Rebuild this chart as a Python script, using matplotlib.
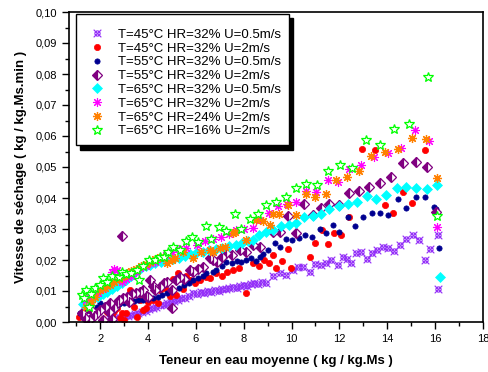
import matplotlib
matplotlib.use("Agg")
import matplotlib.pyplot as plt
from matplotlib.path import Path
from matplotlib.ticker import MultipleLocator, FuncFormatter
import numpy as np

plt.rcParams['font.family'] = ['Liberation Sans', 'DejaVu Sans']

labels = ["T=45°C HR=32% U=0.5m/s", "T=45°C HR=32% U=2m/s", "T=55°C HR=32% U=0.5m/s",
          "T=55°C HR=32% U=2m/s", "T=65°C HR=32% U=0.5m/s", "T=65°C HR=32% U=2m/s",
          "T=65°C HR=24% U=2m/s", "T=65°C HR=16% U=2m/s"]

# Series 1: T=45 HR=32 U=0.5
x1 = [2.4, 2.6, 2.8, 3.0, 3.15, 3.3, 3.45, 3.6, 3.75, 3.9, 4.05, 4.2, 4.35, 4.5, 4.65, 4.8, 4.95, 5.1,
      5.25, 5.4, 5.55, 5.7, 5.9, 6.05, 6.2, 6.35, 6.5, 6.65, 6.8, 6.95, 7.1, 7.25, 7.4, 7.55, 7.7, 7.85,
      8.0, 8.15, 8.3, 8.45, 8.6, 8.75, 8.92, 9.22, 9.5, 9.78, 10.06, 10.26, 10.47, 10.75, 10.96, 11.24,
      11.44, 11.65, 11.93, 12.14, 12.31, 12.5, 12.69, 12.92, 13.14, 13.36, 13.58, 13.81, 14.03, 14.28,
      14.53, 14.78, 15.06, 15.33, 15.56, 15.78, 16.14, 16.14]
y1 = [0.0010, 0.0013, 0.0015, 0.0019, 0.0020, 0.0023, 0.0026, 0.0030, 0.0032, 0.0036, 0.0041, 0.0044,
      0.0048, 0.0054, 0.0056, 0.0062, 0.0064, 0.0069, 0.0071, 0.0076, 0.0078, 0.0084, 0.0094, 0.0090,
      0.0097, 0.0093, 0.0100, 0.0098, 0.0104, 0.0101, 0.0108, 0.0105, 0.0110, 0.0114, 0.0111, 0.0117,
      0.0120, 0.0116, 0.0123, 0.0126, 0.0121, 0.0130, 0.0127, 0.0148, 0.0157, 0.0152, 0.0168, 0.0176,
      0.0178, 0.0162, 0.0187, 0.0184, 0.0189, 0.0200, 0.0184, 0.0211, 0.0202, 0.0189, 0.0222, 0.0227,
      0.0204, 0.0222, 0.0232, 0.0243, 0.0238, 0.0230, 0.0248, 0.0268, 0.0281, 0.0265, 0.0200, 0.0237,
      0.0280, 0.0105]

# Series 2: T=45 HR=32 U=2
x2 = [1.1, 1.3, 2.1, 2.28, 2.5, 2.6, 2.72, 2.85, 2.9, 3.0, 3.1, 3.25, 3.4, 3.53, 3.67, 3.8, 3.9, 4.0,
      4.2, 4.4, 4.5, 4.7, 4.9, 5.05, 5.19, 5.26, 5.45, 5.6, 5.75, 5.95, 6.17, 6.44, 6.6, 6.86, 7.1, 7.3,
      7.56, 7.8, 8.11, 8.39, 8.64, 8.85, 9.06, 9.22, 9.36, 9.61, 9.85, 9.99, 10.75, 11.0, 11.28, 11.51,
      11.79, 12.07, 12.42, 12.94, 13.5, 13.89, 14.22, 14.64, 15.03, 15.58]
y2 = [0.0017, 0.0025, 0.0010, 0.0033, 0.0023, 0.0035, 0.0044, 0.0012, 0.0028, 0.0006, 0.0030, 0.0103,
      0.0050, 0.0017, 0.0071, 0.0039, 0.0044, 0.0065, 0.0070, 0.0062, 0.0103, 0.0110, 0.0085, 0.0140,
      0.0087, 0.0157, 0.0105, 0.0150, 0.0135, 0.0125, 0.0135, 0.0146, 0.0142, 0.0157, 0.0150, 0.0162,
      0.0168, 0.0175, 0.0093, 0.0189, 0.0182, 0.0200, 0.0189, 0.0216, 0.0173, 0.0196, 0.0234, 0.0173,
      0.0211, 0.0254, 0.0297, 0.0252, 0.0286, 0.0281, 0.0340, 0.0559, 0.0555, 0.0377, 0.0353, 0.0420,
      0.0385, 0.0555]

# Series 3: T=55 HR=32 U=0.5
x3 = [1.17, 1.4, 1.6, 1.86, 2.0, 2.2, 2.4, 2.65, 2.8, 3.0, 3.2, 3.4, 3.6, 3.8, 4.0, 4.22, 4.4, 4.6,
      4.8, 5.06, 5.3, 5.5, 5.7, 5.89, 6.1, 6.3, 6.44, 6.7, 6.86, 7.1, 7.28, 7.5, 7.7, 7.9, 8.11, 8.3,
      8.5, 8.67, 8.81, 9.01, 9.29, 9.5, 9.78, 10.03, 10.3, 10.58, 10.86, 11.17, 11.44, 11.75, 12.0,
      12.35, 12.67, 13.0, 13.35, 13.7, 14.04, 14.43, 14.78, 15.19, 15.58, 15.96, 16.03, 16.17]
y3 = [0.0029, 0.0035, 0.0042, 0.0049, 0.0060, 0.0055, 0.0052, 0.0049, 0.0058, 0.0062, 0.0066, 0.0068,
      0.0070, 0.0072, 0.0074, 0.0076, 0.0082, 0.0088, 0.0095, 0.0103, 0.0110, 0.0118, 0.0126, 0.0135,
      0.0142, 0.0150, 0.0157, 0.0160, 0.0168, 0.0180, 0.0195, 0.0190, 0.0198, 0.0192, 0.0200, 0.0205,
      0.0198, 0.0211, 0.0218, 0.0232, 0.0254, 0.0241, 0.0268, 0.0265, 0.0270, 0.0281, 0.0275, 0.0300,
      0.0286, 0.0313, 0.0290, 0.0340, 0.0310, 0.0338, 0.0353, 0.0353, 0.0345, 0.0396, 0.0367, 0.0404,
      0.0402, 0.0372, 0.0365, 0.0238]

# Series 4: T=55 HR=32 U=2
x4 = [1.26, 1.35, 1.54, 1.6, 1.75, 1.85, 2.0, 2.1, 2.2, 2.37, 2.42, 2.51, 2.6, 2.72, 2.8, 2.9, 2.95,
      3.14, 3.2, 3.35, 3.49, 3.65, 3.8, 3.9, 4.01, 4.08, 4.2, 4.29, 4.5, 4.65, 4.8, 4.99, 4.99, 5.19,
      5.35, 5.5, 5.75, 5.89, 6.1, 6.3, 6.58, 6.72, 6.9, 7.1, 7.28, 7.5, 7.83, 8.1, 8.4, 8.67, 9.22, 9.5,
      9.85, 10.17, 10.54, 10.89, 11.24, 11.58, 12.0, 12.42, 12.83, 13.25, 13.7, 14.17, 14.67, 15.19,
      15.68, 16.03]
y4 = [0.0028, 0.0012, 0.0006, 0.0040, 0.0018, 0.0030, 0.0039, 0.0006, 0.0050, 0.0033, 0.0060, 0.0010,
      0.0045, 0.0060, 0.0070, 0.0277, 0.0078, 0.0082, 0.0065, 0.0090, 0.0093, 0.0098, 0.0103, 0.0085,
      0.0082, 0.0135, 0.0115, 0.0103, 0.0114, 0.0125, 0.0130, 0.0103, 0.0044, 0.0135, 0.0145, 0.0140,
      0.0168, 0.0160, 0.0170, 0.0178, 0.0205, 0.0200, 0.0195, 0.0210, 0.0221, 0.0215, 0.0232, 0.0225,
      0.0250, 0.0243, 0.0291, 0.0290, 0.0342, 0.0286, 0.0380, 0.0345, 0.0367, 0.0380, 0.0377, 0.0415,
      0.0423, 0.0437, 0.0450, 0.0467, 0.0512, 0.0517, 0.0501, 0.0356]

# Series 5: T=65 HR=32 U=0.5
x5 = [1.3, 1.5, 1.68, 1.9, 2.1, 2.3, 2.5, 2.7, 2.9, 3.1, 3.3, 3.5, 3.7, 3.9, 4.1, 4.3, 4.55, 4.8,
      5.06, 5.3, 5.55, 5.75, 6.0, 6.31, 6.55, 6.86, 7.1, 7.4, 7.69, 7.95, 8.2, 8.39, 8.65, 8.94, 9.22,
      9.57, 9.89, 10.19, 10.54, 10.89, 11.24, 11.58, 11.97, 12.35, 12.72, 13.14, 13.53, 13.94, 14.39,
      14.8, 15.22, 15.64, 16.07, 16.21]
y5 = [0.0058, 0.0066, 0.0071, 0.0080, 0.0090, 0.0098, 0.0106, 0.0115, 0.0125, 0.0135, 0.0150, 0.0163,
      0.0175, 0.0180, 0.0185, 0.0190, 0.0195, 0.0200, 0.0203, 0.0208, 0.0213, 0.0219, 0.0222, 0.0227,
      0.0232, 0.0236, 0.0240, 0.0244, 0.0248, 0.0255, 0.0260, 0.0265, 0.0280, 0.0291, 0.0297, 0.0311,
      0.0313, 0.0320, 0.0340, 0.0343, 0.0347, 0.0363, 0.0374, 0.0380, 0.0386, 0.0408, 0.0398, 0.0410,
      0.0431, 0.0434, 0.0431, 0.0428, 0.0441, 0.0144]

# Series 6: T=65 HR=32 U=2
x6 = [1.4, 1.55, 1.7, 1.9, 2.1, 2.3, 2.5, 2.6, 2.69, 2.8, 2.9, 3.1, 3.3, 3.5, 3.67, 3.9, 4.1, 4.3,
      4.5, 4.75, 5.0, 5.3, 5.6, 6.03, 6.1, 6.4, 6.7, 7.07, 7.4, 7.69, 8.0, 8.39, 8.7, 9.06, 9.43, 9.8,
      10.19, 10.61, 11.03, 11.51, 11.93, 12.42, 12.9, 13.46, 14.01, 14.57, 15.17, 15.75, 16.06]
y6 = [0.0070, 0.0080, 0.0090, 0.0095, 0.0105, 0.0115, 0.0160, 0.0172, 0.0168, 0.0160, 0.0130, 0.0140,
      0.0150, 0.0160, 0.0173, 0.0180, 0.0190, 0.0195, 0.0205, 0.0215, 0.0225, 0.0235, 0.0240, 0.0248,
      0.0254, 0.0260, 0.0268, 0.0275, 0.0285, 0.0297, 0.0300, 0.0302, 0.0330, 0.0353, 0.0374, 0.0380,
      0.0386, 0.0424, 0.0420, 0.0458, 0.0453, 0.0495, 0.0508, 0.0531, 0.0546, 0.0560, 0.0619, 0.0584,
      0.0305]

# Series 7: T=65 HR=24 U=2
x7 = [1.4, 1.6, 1.8, 2.0, 2.2, 2.4, 2.6, 2.8, 3.0, 3.11, 3.3, 3.5, 3.7, 3.9, 4.1, 4.3, 4.5, 4.78,
      5.0, 5.13, 5.47, 5.89, 6.2, 6.58, 6.72, 7.0, 7.21, 7.56, 7.63, 8.11, 8.53, 8.81, 9.11, 9.22, 9.47,
      9.85, 10.19, 10.61, 11.0, 11.42, 11.86, 12.31, 12.8, 13.32, 13.9, 14.43, 15.03, 15.61, 16.07]
y7 = [0.0050, 0.0065, 0.0080, 0.0103, 0.0110, 0.0120, 0.0128, 0.0138, 0.0148, 0.0157, 0.0163, 0.0172,
      0.0180, 0.0188, 0.0195, 0.0202, 0.0211, 0.0189, 0.0200, 0.0205, 0.0227, 0.0205, 0.0225, 0.0232,
      0.0227, 0.0240, 0.0243, 0.0286, 0.0291, 0.0265, 0.0329, 0.0327, 0.0313, 0.0350, 0.0348, 0.0377,
      0.0345, 0.0413, 0.0402, 0.0413, 0.0458, 0.0467, 0.0487, 0.0537, 0.0550, 0.0557, 0.0592, 0.0589,
      0.0463]

# Series 8: T=65 HR=16 U=2
x8 = [1.26, 1.31, 1.4, 1.54, 1.6, 1.8, 2.0, 2.1, 2.3, 2.5, 2.79, 2.9, 3.1, 3.28, 3.53, 3.62, 3.8,
      4.04, 4.3, 4.5, 4.67, 4.85, 5.06, 5.33, 5.58, 5.86, 6.1, 6.42, 6.65, 6.97, 7.28, 7.63, 7.9, 8.25,
      8.6, 8.94, 9.33, 9.75, 10.17, 10.61, 11.06, 11.51, 12.03, 12.53, 13.11, 13.7, 14.29, 14.92, 15.72,
      16.06]
y8 = [0.0087, 0.0076, 0.0103, 0.0049, 0.0090, 0.0110, 0.0120, 0.0141, 0.0130, 0.0150, 0.0146, 0.0160,
      0.0155, 0.0157, 0.0168, 0.0135, 0.0180, 0.0200, 0.0200, 0.0209, 0.0211, 0.0225, 0.0243, 0.0232,
      0.0261, 0.0275, 0.0259, 0.0310, 0.0268, 0.0305, 0.0295, 0.0350, 0.0299, 0.0331, 0.0347, 0.0377,
      0.0388, 0.0402, 0.0431, 0.0445, 0.0441, 0.0488, 0.0508, 0.0496, 0.0587, 0.0571, 0.0621, 0.0640,
      0.0789, 0.0342]

# custom circle-with-X marker
circ = Path.unit_circle()
cverts = circ.vertices * 0.55
ccodes = circ.codes
xverts = np.array([[-0.8, -0.8], [0.8, 0.8], [-0.8, 0.8], [0.8, -0.8]])
xcodes = [Path.MOVETO, Path.LINETO, Path.MOVETO, Path.LINETO]
oxmarker = Path(np.vstack([cverts, xverts]), list(ccodes) + xcodes)

fig = plt.figure(figsize=(4.89, 3.72), dpi=100)
ax = fig.add_axes([69/489, 50/372, 414/489, 310/372])

ax.plot(x1, y1, ls='none', marker=oxmarker, ms=5.5, mfc='none', mec='#9430F8', mew=0.8, label=labels[0])
ax.plot(x2, y2, ls='none', marker='o', ms=4.5, mfc='#FF0000', mec='#FF0000', mew=0.5, label=labels[1])
ax.plot(x3, y3, ls='none', marker='o', ms=3.8, mfc='#000090', mec='#000090', mew=0.5, label=labels[2])
ax.plot(x4, y4, ls='none', marker='D', ms=4.6, fillstyle='left', mfc='#800080', mfcalt='white',
        mec='#800080', mew=0.9, label=labels[3])
ax.plot(x5, y5, ls='none', marker='D', ms=5.0, mfc='#00FFFF', mec='#00FFFF', mew=0.5, label=labels[4])
ax.plot(x6, y6, ls='none', marker=(8, 2, 0), ms=6.5, mec='#FF00FF', mew=0.8, label=labels[5])
ax.plot(x7, y7, ls='none', marker=(8, 2, 0), ms=6.5, mec='#FF8000', mew=0.9, label=labels[6])
ax.plot(x8, y8, ls='none', marker='*', ms=7.0, mfc='white', mec='#00FF00', mew=0.9, label=labels[7])

ax.set_xlim(0.7, 18)
ax.set_ylim(0, 0.10)
ax.xaxis.set_major_locator(MultipleLocator(2))
ax.xaxis.set_minor_locator(MultipleLocator(1))
ax.yaxis.set_major_locator(MultipleLocator(0.01))
ax.yaxis.set_minor_locator(MultipleLocator(0.005))
ax.yaxis.set_major_formatter(FuncFormatter(lambda v, p: f"{v:.2f}".replace('.', ',')))
ax.xaxis.set_major_formatter(FuncFormatter(lambda v, p: f"{v:.0f}"))
ax.tick_params(which='both', direction='out', top=False, right=False, labelsize=8, width=1)
ax.tick_params(which='major', length=5)
ax.tick_params(which='minor', length=3)
for s in ax.spines.values():
    s.set_linewidth(1.2)

ax.set_xlabel("Teneur en eau moyenne ( kg / kg.Ms )", fontsize=9.5, fontweight='bold', labelpad=8)
ax.set_ylabel("Vitesse de séchage ( kg / kg.Ms.min )", fontsize=9.5, fontweight='bold', labelpad=6)

leg = ax.legend(loc='upper left', bbox_to_anchor=(0.016, 0.9935), borderaxespad=0, fontsize=9.5,
                frameon=True, fancybox=False, edgecolor='black', framealpha=1,
                shadow={'ox': 3, 'oy': -3, 'color': 'black', 'alpha': 1},
                handlelength=2.0, handletextpad=0.6, labelspacing=0.12, borderpad=0.6,
                title=' ', title_fontsize=4)
leg.get_frame().set_linewidth(1.0)

fig.savefig("out.png", dpi=100)
